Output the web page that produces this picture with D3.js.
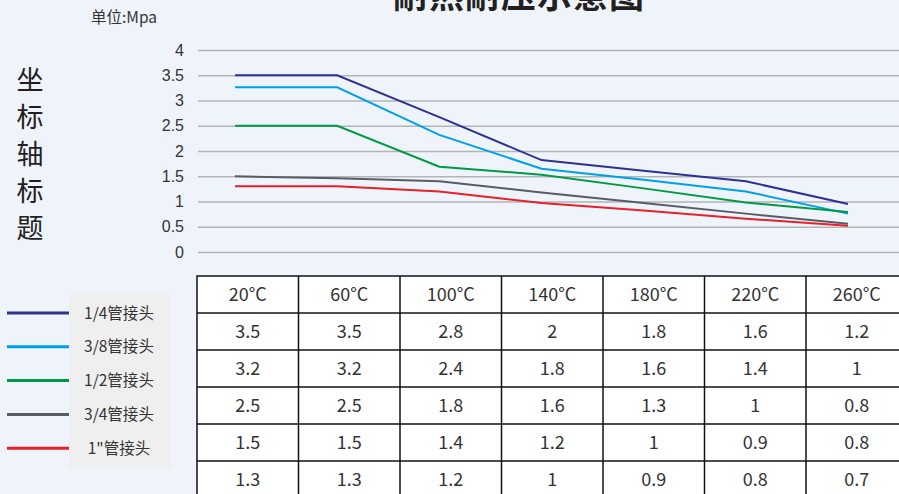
<!DOCTYPE html>
<html>
<head>
<meta charset="utf-8">
<script src="https://cdn.jsdelivr.net/npm/d3@7"></script>
<style>
  html, body { margin: 0; padding: 0; background: #eff4fb; }
  svg { display: block; }
  text { font-family: "Noto Sans CJK SC", "Noto Sans", sans-serif; }
</style>
</head>
<body>
<div class="canvas-container"></div>
<script>
"use strict";

// categories, legend names and tick labels
var temps = ["20°C", "60°C", "100°C", "140°C", "180°C", "220°C", "260°C"];
var series = ["1/4管接头", "3/8管接头", "1/2管接头", "3/4管接头", "1\"管接头"];
var colors = ["#2e3192", "#00a0e9", "#009944", "#575c68", "#e8202a"];
var yTicks = [0, 0.5, 1, 1.5, 2, 2.5, 3, 3.5, 4];

// values
var line14 = [3.5, 3.5, 2.67, 1.82, 1.61, 1.4, 0.95];
var line38 = [3.26, 3.26, 2.32, 1.65, 1.43, 1.2, 0.76];
var line12 = [2.5, 2.5, 1.69, 1.53, 1.26, 0.98, 0.79];
var line34 = [1.5, 1.46, 1.4, 1.18, 0.97, 0.76, 0.56];
var line1 = [1.3, 1.3, 1.2, 0.97, 0.82, 0.66, 0.52];

// values printed in the table
var table14 = ["3.5", "3.5", "2.8", "2", "1.8", "1.6", "1.2"];
var table38 = ["3.2", "3.2", "2.4", "1.8", "1.6", "1.4", "1"];
var table12 = ["2.5", "2.5", "1.8", "1.6", "1.3", "1", "0.8"];
var table34 = ["1.5", "1.5", "1.4", "1.2", "1", "0.9", "0.8"];
var table1 = ["1.3", "1.3", "1.2", "1", "0.9", "0.8", "0.7"];

var lines = [line14, line38, line12, line34, line1];
var tableRows = [temps, table14, table38, table12, table34, table1];

var width = 899, height = 494;

var svg = d3.select("div.canvas-container")
    .append("svg")
    .attr("width", width)
    .attr("height", height);

// title, partly above the top edge (as in the original)
svg.append("text")
    .attr("x", 519)
    .attr("y", 8)
    .attr("text-anchor", "middle")
    .style("font-size", "35px")
    .style("font-weight", "bold")
    .style("letter-spacing", "1px")
    .attr("fill", "#231f20")
    .text("耐热耐压示意图");

svg.append("text")
    .attr("x", 91)
    .attr("y", 23)
    .style("font-size", "15.5px")
    .attr("fill", "#333")
    .text("单位:Mpa");

// vertical axis title, one glyph per line
svg.append("g")
    .selectAll("text")
    .data("坐标轴标题".split(""))
    .enter()
    .append("text")
    .attr("x", 30)
    .attr("y", function(d, i) { return 90 + i * 37; })
    .attr("text-anchor", "middle")
    .style("font-size", "27px")
    .attr("fill", "#231f20")
    .text(function(d) { return d; });

var x = d3.scalePoint().domain(temps).range([235, 848]);
var y = d3.scaleLinear().domain([0, 4]).range([252, 50]);

var yAxis = svg.append("g")
    .attr("transform", "translate(198,0)")
    .call(d3.axisLeft(y).tickValues(yTicks).tickSize(-(width - 198)).tickPadding(14)
        .tickFormat(function(d) { return String(d); }));

yAxis.select(".domain").remove();
yAxis.selectAll(".tick line")
    .attr("stroke", "#b3b4b6")
    .attr("stroke-width", 1.6);
yAxis.selectAll(".tick text")
    .style("font-family", "\"Liberation Sans\", Arial, sans-serif")
    .style("font-size", "16px")
    .attr("fill", "#333");

var line = d3.line()
    .x(function(d, i) { return x(temps[i]); })
    .y(function(d) { return y(d); });

svg.append("g")
    .selectAll("path")
    .data(lines)
    .enter()
    .append("path")
    .attr("d", line)
    .attr("fill", "none")
    .attr("stroke", function(d, i) { return colors[i]; })
    .attr("stroke-width", 2);

// legend
var legend = svg.append("g");

legend.append("rect")
    .attr("x", 69)
    .attr("y", 294)
    .attr("width", 102)
    .attr("height", 173)
    .attr("fill", "#efefef");

var item = legend.selectAll("g.item")
    .data(series)
    .enter()
    .append("g")
    .attr("class", "item")
    .attr("transform", function(d, i) { return "translate(0," + (313 + i * 33.8) + ")"; });

item.append("line")
    .attr("x1", 7)
    .attr("x2", 69)
    .attr("stroke", function(d, i) { return colors[i]; })
    .attr("stroke-width", 3);

item.append("text")
    .attr("x", 119)
    .attr("dy", "0.36em")
    .attr("text-anchor", "middle")
    .style("font-size", "15.5px")
    .attr("fill", "#333")
    .text(function(d) { return d; });

// table
var col = d3.scaleBand().domain(temps).range([197, 197 + 101.5 * 7]);
var rowH = 37;
var tableTop = 276;

var table = svg.append("g");

table.append("rect")
    .attr("x", 197)
    .attr("y", tableTop)
    .attr("width", 101.5 * 7)
    .attr("height", rowH * tableRows.length)
    .attr("fill", "#fff")
    .attr("stroke", "#111")
    .attr("stroke-width", 1.5);

table.selectAll("line.h")
    .data(d3.range(1, tableRows.length))
    .enter()
    .append("line")
    .attr("class", "h")
    .attr("x1", 197)
    .attr("x2", 197 + 101.5 * 7)
    .attr("y1", function(d) { return tableTop + d * rowH; })
    .attr("y2", function(d) { return tableTop + d * rowH; })
    .attr("stroke", "#111")
    .attr("stroke-width", 1.5);

table.selectAll("line.v")
    .data(temps.slice(1))
    .enter()
    .append("line")
    .attr("class", "v")
    .attr("x1", function(d) { return col(d); })
    .attr("x2", function(d) { return col(d); })
    .attr("y1", tableTop)
    .attr("y2", tableTop + rowH * tableRows.length)
    .attr("stroke", "#111")
    .attr("stroke-width", 1.5);

var row = table.selectAll("g.row")
    .data(tableRows)
    .enter()
    .append("g")
    .attr("class", "row")
    .attr("transform", function(d, i) { return "translate(0," + (tableTop + i * rowH + rowH / 2) + ")"; });

row.selectAll("text")
    .data(function(d) { return d; })
    .enter()
    .append("text")
    .attr("x", function(d, i) { return col(temps[i]) + col.bandwidth() / 2; })
    .attr("dy", "0.36em")
    .attr("text-anchor", "middle")
    .style("font-size", "18px")
    .attr("fill", "#333")
    .text(function(d) { return d; });
</script>
</body>
</html>
